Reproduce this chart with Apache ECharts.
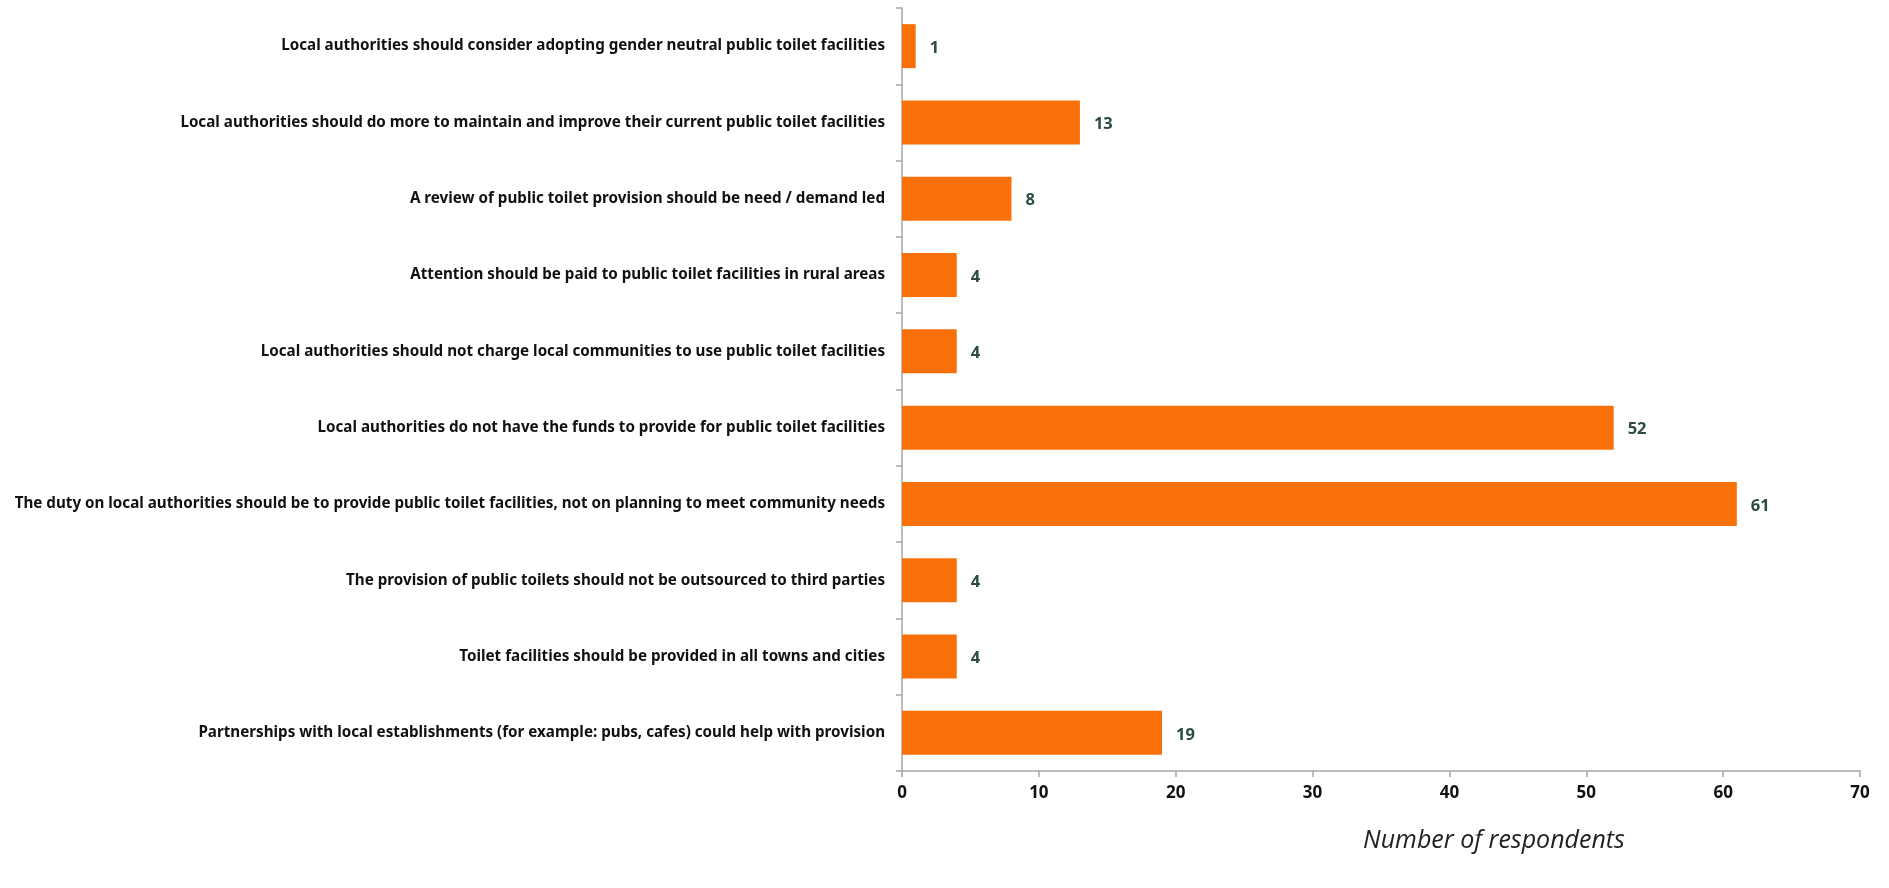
<!DOCTYPE html>
<html><head><meta charset="utf-8">
<script src="https://cdn.jsdelivr.net/npm/echarts@6/dist/echarts.min.js"></script>
<style>html,body{margin:0;padding:0;background:#fff}#c{width:1889px;height:888px}</style>
</head><body><div id="c"></div>
<script>
const categories = [
  "Local authorities should consider adopting gender neutral public toilet facilities",
  "Local authorities should do more to maintain and improve their current public toilet facilities",
  "A review of public toilet provision should be need / demand led",
  "Attention should be paid to public toilet facilities in rural areas",
  "Local authorities should not charge local communities to use public toilet facilities",
  "Local authorities do not have the funds to provide for public toilet facilities",
  "The duty on local authorities should be to provide public toilet facilities, not on planning to meet community needs",
  "The provision of public toilets should not be outsourced to third parties",
  "Toilet facilities should be provided in all towns and cities",
  "Partnerships with local establishments (for example: pubs, cafes) could help with provision"
];
const values = [1, 13, 8, 4, 4, 52, 61, 4, 4, 19];
const axisTitle = "Number of respondents";

const chart = echarts.init(document.getElementById('c'));
chart.setOption({
  animation: false,
  grid: {left: 902, right: 29, top: 8, bottom: 117, containLabel: false},
  xAxis: {
    type: 'value', min: 0, max: 70, interval: 10,
    axisLine: {show: true, lineStyle: {color: '#a6a6a6', width: 1.5}},
    axisTick: {show: true, length: 6, lineStyle: {color: '#a6a6a6', width: 1.5}},
    splitLine: {show: false},
    axisLabel: {color: '#111', fontWeight: 'bold', fontSize: 17, fontFamily: 'Noto Sans', margin: 14}
  },
  yAxis: {
    type: 'category', data: categories, inverse: true,
    axisLine: {show: true, lineStyle: {color: '#a6a6a6', width: 1.5}},
    axisTick: {show: true, length: 6, lineStyle: {color: '#a6a6a6', width: 1.5}},
    axisLabel: {color: '#111', fontWeight: 'bold', fontSize: 15.2, fontFamily: 'Noto Sans', margin: 17}
  },
  graphic: [{
    type: 'text', x: 1494, y: 841,
    style: {text: axisTitle, font: 'italic 25px "Open Sans"', fill: '#222', textAlign: 'center', textVerticalAlign: 'middle'}
  }],
  series: [{
    type: 'bar', data: values, barWidth: 44,
    itemStyle: {color: '#f97009'},
    label: {show: true, position: 'right', distance: 14, color: '#2b4d40', fontWeight: 'bold', fontSize: 16.5, fontFamily: 'Noto Sans', offset: [0, 2]}
  }]
});
</script></body></html>
